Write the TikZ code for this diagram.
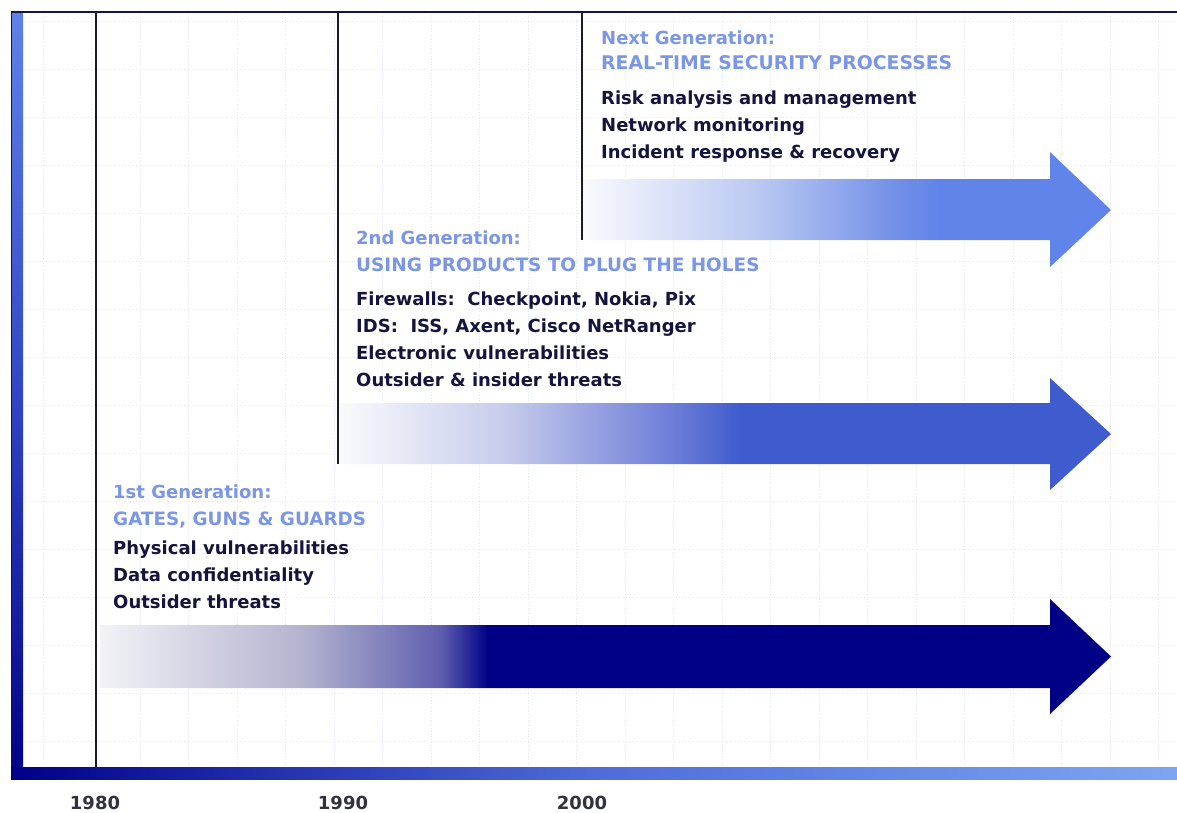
\documentclass[tikz,border=0pt]{standalone}
\usepackage{fontspec}
\setmainfont{DejaVu Sans}

% palette
\definecolor{framenavy}{RGB}{0,0,135}
\definecolor{frameline}{RGB}{20,20,70}
\definecolor{barlight}{RGB}{125,165,242}
\definecolor{bartop}{RGB}{95,130,232}
\definecolor{barmid}{RGB}{50,70,195}
\definecolor{bottommid}{RGB}{78,108,218}
\definecolor{gridtint}{RGB}{228,233,249}
\definecolor{headblue}{RGB}{122,150,228}
\definecolor{bodyink}{RGB}{20,20,60}
\definecolor{yearink}{RGB}{50,50,62}
\definecolor{ruleink}{RGB}{25,25,50}
% arrow fade stops
\definecolor{oneA}{RGB}{242,242,247}
\definecolor{oneB}{RGB}{180,180,208}
\definecolor{oneC}{RGB}{96,96,176}
\definecolor{oneD}{RGB}{0,0,135}
\definecolor{twoA}{RGB}{250,250,253}
\definecolor{twoB}{RGB}{200,206,236}
\definecolor{twoC}{RGB}{105,122,215}
\definecolor{twoD}{RGB}{62,92,206}
\definecolor{threeA}{RGB}{250,250,254}
\definecolor{threeB}{RGB}{185,200,242}
\definecolor{threeC}{RGB}{112,142,232}
\definecolor{threeD}{RGB}{96,132,234}

% horizontal fades of the three generation arrows
% (the path bounding box spans 25bp .. 75bp of each shading)
\pgfdeclarehorizontalshading{genone}{100bp}{%
  color(0bp)=(oneA); color(25bp)=(oneA); color(34.9bp)=(oneB);
  color(41.8bp)=(oneC); color(44.2bp)=(oneD); color(100bp)=(oneD)}
\pgfdeclarehorizontalshading{gentwo}{100bp}{%
  color(0bp)=(twoA); color(25bp)=(twoA); color(35.5bp)=(twoB);
  color(47.1bp)=(twoC); color(51bp)=(twoD); color(100bp)=(twoD)}
\pgfdeclarehorizontalshading{genthree}{100bp}{%
  color(0bp)=(threeA); color(25bp)=(threeA); color(41.8bp)=(threeB);
  color(55.1bp)=(threeC); color(58.8bp)=(threeD); color(100bp)=(threeD)}

\tikzset{
  txt/.style={anchor=base west, inner sep=0pt, font=\fontsize{18}{22}\selectfont\bfseries},
  headtxt/.style={txt, text=headblue},
  capstxt/.style={headtxt, font=\fontsize{#1}{22}\selectfont\bfseries},
  bodytxt/.style={txt, text=bodyink},
  yeartxt/.style={anchor=base, inner sep=0pt, text=yearink,
                  font=\fontsize{18}{22}\selectfont\bfseries},
  erarule/.style={draw=ruleink, line width=1.6pt},
  gridline/.style={draw=gridtint, line width=0.8pt, dotted},
}

\begin{document}
\begin{tikzpicture}[x=1pt, y=-1pt]
\useasboundingbox (0,0) rectangle (1177,812);
\fill[white] (0,0) rectangle (1177,812);

% faint background grid
\foreach \gx in {43,91.5,...,1177} \draw[gridline] (\gx,14) -- (\gx,766);
\foreach \gy in {21,69,...,766} \draw[gridline] (24,\gy) -- (1177,\gy);

% frame: left bar, bottom bar, top rule
\shade[top color=bartop, bottom color=framenavy, middle color=barmid]
  (11,12) rectangle (23,779);
\draw[frameline, line width=1pt] (11.5,12) -- (11.5,779);
\shade[left color=framenavy, right color=barlight, middle color=bottommid]
  (11,767) rectangle (1177,779);
\draw[frameline, line width=2pt] (11,12) -- (1177,12);

% arrows, one per generation
\shade[shading=genone]
  (100,625) -- (1050,625) -- (1050,599) -- (1111,656.5) -- (1050,714) -- (1050,688) -- (100,688) -- cycle;
\shade[shading=gentwo]
  (338,403) -- (1050,403) -- (1050,378) -- (1111,434) -- (1050,490) -- (1050,464) -- (338,464) -- cycle;
\shade[shading=genthree]
  (582,179) -- (1050,179) -- (1050,152) -- (1111,210) -- (1050,267) -- (1050,240) -- (582,240) -- cycle;

% era rules
\coordinate (t80) at (96,13);   \coordinate (b80) at (96,767);
\coordinate (t90) at (338,13);  \coordinate (b90) at (338,464);
\coordinate (t00) at (582,13);  \coordinate (b00) at (582,240);
\draw[erarule] (t80) -- (b80);
\draw[erarule] (t90) -- (b90);
\draw[erarule] (t00) -- (b00);

% next generation
\node[headtxt] (n1) at (601,44.5) {Next Generation:};
\node[capstxt=18.85] (n2) at (601,69.5) {REAL-TIME SECURITY PROCESSES};
\node[bodytxt] (n3) at (601,104.5) {Risk analysis and management};
\node[bodytxt] (n4) at (601,131.5) {Network monitoring};
\node[bodytxt] (n5) at (601,158.5) {Incident response \& recovery};

% second generation
\node[headtxt] (s1) at (356,244.5) {2nd Generation:};
\node[capstxt=18.45] (s2) at (356,271.5) {USING PRODUCTS TO PLUG THE HOLES};
\node[bodytxt] (s3) at (356,305.5) {Firewalls:\ \ Checkpoint, Nokia, Pix};
\node[bodytxt] (s4) at (356,332.5) {IDS:\ \ ISS, Axent, Cisco NetRanger};
\node[bodytxt] (s5) at (356,359.5) {Electronic vulnerabilities};
\node[bodytxt] (s6) at (356,386.5) {Outsider \& insider threats};

% first generation
\node[headtxt] (f1) at (113,498.5) {1st Generation:};
\node[capstxt=18.35] (f2) at (113,525.5) {GATES, GUNS \& GUARDS};
\node[bodytxt] (f3) at (113,554.5) {Physical vulnerabilities};
\node[bodytxt] (f4) at (113,581.5) {Data confidentiality};
\node[bodytxt] (f5) at (113,608.5) {Outsider threats};

% years
\node[yeartxt] (y80) at (95,809) {1980};
\node[yeartxt] (y90) at (343,809) {1990};
\node[yeartxt] (y00) at (582,809) {2000};
\end{tikzpicture}
\end{document}
